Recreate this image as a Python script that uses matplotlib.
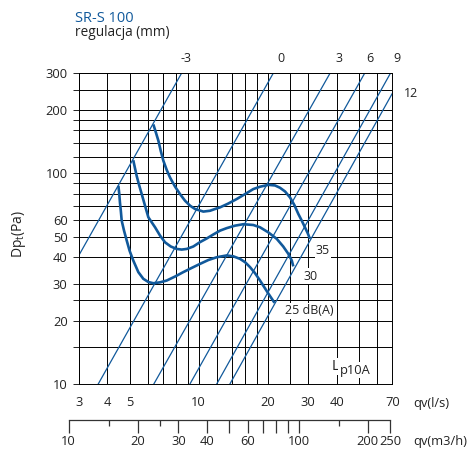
import matplotlib
matplotlib.use("Agg")
import matplotlib.pyplot as plt

plt.rcParams["font.family"] = "Open Sans"
plt.rcParams["mathtext.fontset"] = "custom"
plt.rcParams["mathtext.rm"] = "Open Sans"

# ---------------------------------------------------------
# data
# ---------------------------------------------------------
grid_q = [3, 4, 5, 6, 7, 8, 9, 10, 12, 14, 16, 18, 20, 25, 30, 40, 50, 60, 70]
q_labels = [3, 4, 5, 10, 20, 30, 40, 70]
grid_p = [10, 15, 20, 25, 30, 40, 50, 60, 70, 80, 90, 100, 120, 140, 160, 180, 200, 250, 300]
p_labels = [10, 20, 30, 40, 50, 60, 100, 200, 300]

m3h_long = [10, 20, 30, 40, 50, 60, 70, 80, 90, 100, 200, 250]
m3h_short = [15, 25, 150]
m3h_labels = [10, 20, 30, 40, 60, 100, 200, 250]

# regulation lines (mm): flow at 10 Pa and at 300 Pa
reg_names = ["-3", "0", "3", "6", "9", "12"]
reg_q10 = [1.45, 3.65, 6.38, 9.17, 12.0, 13.7]
reg_q300 = [8.44, 21.2, 37.5, 53.1, 68.8, 78.5]
reg_label_q = [8.84, 22.9, 40.8, 56.0, 73.0, 84.1]
reg_label_p = [352, 352, 352, 352, 352, 240]

# sound level curves Lp10A
q35 = [6.35, 6.52, 6.68, 6.84, 7.02, 7.26, 7.51, 7.90, 8.30, 8.73, 9.18, 9.65, 10.49,
       11.22, 11.8, 12.4, 13.49, 14.67, 15.95, 17.33, 18.54, 20.15, 21.56, 22.66,
       23.84, 25.06, 26.17, 27.24, 28.19, 29.1, 29.94, 30.6]
p35 = [171, 156, 143, 128, 115, 104, 95.6, 86.5, 79.8, 74.2, 70.3, 67.8, 65.9,
       66.5, 67.8, 69.0, 72.0, 75.6, 79.8, 84.3, 86.5, 88.3, 87.7, 85.5,
       82.1, 76.9, 70.8, 64.2, 59.7, 55.5, 52.0, 48.9]

q30 = [5.19, 5.28, 5.37, 5.50, 5.65, 5.84, 6.04, 6.46, 6.79, 7.14, 7.56, 8.03, 8.44,
       8.88, 9.49, 10.15, 10.85, 11.56, 12.4, 13.27, 14.42, 15.68, 17.33, 18.54,
       20.15, 21.93, 23.4, 24.64, 25.5, 25.9]
p30 = [115.6, 105.9, 97.4, 88.3, 79.8, 70.3, 61.9, 55.5, 50.7, 47.1, 45.0, 43.8, 43.5,
       43.8, 45.0, 47.2, 49.1, 51.2, 53.5, 55.0, 56.5, 57.4, 56.9, 55.5,
       52.5, 48.9, 45.0, 41.5, 38.6, 36.2]

q25 = [4.47, 4.51, 4.54, 4.58, 4.62, 4.73, 4.86, 5.0, 5.19, 5.46, 5.74, 6.04, 6.35,
       6.79, 7.26, 7.90, 8.58, 9.34, 10.15, 11.03, 12.0, 13.27, 14.18, 15.16, 15.95,
       16.77, 17.63, 18.54, 19.36, 20.15, 21.45]
p25 = [87.4, 79.8, 72.8, 66.5, 59.7, 53.5, 48.0, 43.0, 38.6, 34.0, 31.6, 30.5, 30.1,
       30.4, 31.0, 32.4, 34.0, 35.6, 37.2, 38.8, 40.0, 40.8, 40.4, 39.3, 37.9,
       35.9, 33.6, 31.0, 28.8, 26.9, 24.3]

curve_names = ["35", "30", "25 dB(A)"]
curve_label_q = [34.9, 30.8, 30.5]
curve_label_p = [43.0, 32.5, 22.3]

blue = "#11599b"
ink = "#222222"
W, H = 470, 454

fig = plt.figure(figsize=(W / 100, H / 100), dpi=100)
ax = fig.add_axes([78.7 / W, 1 - 384 / H, (392.3 - 78.7) / W, (384 - 73) / H])
ax.set_xscale("log")
ax.set_yscale("log")
ax.set_xlim(3, 70)
ax.set_ylim(10, 300)

ax.set_xticks(grid_q)
ax.set_xticklabels([str(v) if v in q_labels else "" for v in grid_q])
ax.set_yticks(grid_p)
ax.set_yticklabels([str(v) if v in p_labels else "" for v in grid_p])
ax.minorticks_off()
ax.tick_params(axis="x", length=0, pad=8.5, labelsize=9.3, colors=ink)
ax.tick_params(axis="y", length=4, width=0.7, pad=4, labelsize=9.3, colors=ink)
ax.grid(True, color="black", lw=0.7)
ax.set_axisbelow(True)
for s in ax.spines.values():
    s.set_linewidth(0.7)

# regulation lines
for q10, q300 in zip(reg_q10, reg_q300):
    ax.plot([q10, q300], [10, 300], color=blue, lw=0.9)
for name, lq, lp in zip(reg_names, reg_label_q, reg_label_p):
    ax.text(lq, lp, name, ha="center", va="center", fontsize=9, color=ink, clip_on=False)

# sound curves
for q, p in [(q35, p35), (q30, p30), (q25, p25)]:
    ax.plot(q, p, color=blue, lw=1.9, solid_joinstyle="round", solid_capstyle="butt")
for name, lq, lp in zip(curve_names, curve_label_q, curve_label_p):
    ax.text(lq, lp, name, ha="center", va="center", fontsize=9, color=ink,
            bbox=dict(facecolor="white", edgecolor="none", pad=1))
ax.text(37.9, 11.65, "L", ha="left", va="baseline", fontsize=10.5, color=ink,
        bbox=dict(facecolor="white", edgecolor="none", pad=1))
ax.text(41.3, 11.2, "p10A", ha="left", va="baseline", fontsize=9.3, color=ink,
        bbox=dict(facecolor="white", edgecolor="none", pad=1))

# second flow axis in m3/h
ax2 = fig.add_axes([68.7 / W, 1 - 419.5 / H, (390 - 68.7) / W, 0.0001])
ax2.set_xscale("log")
ax2.set_xlim(10, 250)
ax2.set_yticks([])
ax2.patch.set_visible(False)
for side in ["left", "right", "top"]:
    ax2.spines[side].set_visible(False)
ax2.spines["bottom"].set_color("#333333")
ax2.spines["bottom"].set_linewidth(0.9)
ax2.set_xticks(m3h_long)
ax2.set_xticklabels([str(v) if v in m3h_labels else "" for v in m3h_long])
ax2.set_xticks(m3h_short, minor=True)
ax2.xaxis.set_minor_formatter(plt.NullFormatter())
ax2.tick_params(axis="x", which="major", length=9, width=0.9, pad=2, labelsize=9.3,
                colors="#333333", labelcolor=ink)
ax2.tick_params(axis="x", which="minor", length=4.5, width=0.9, colors="#333333")

# texts
fig.text(75 / W, 1 - 18 / H, "SR-S 100", color=blue, fontsize=10.5, va="center")
fig.text(75 / W, 1 - 33 / H, "regulacja (mm)", color=ink, fontsize=9.8, va="center")
fig.text(19 / W, 1 - 234 / H, r"Dp$_{\mathregular{t}}$(Pa)", rotation=90, fontsize=10,
         ha="center", va="center", color=ink)
fig.text(413 / W, 1 - 403 / H, "qv(l/s)", fontsize=9.3, va="center", color=ink)
fig.text(413 / W, 1 - 442 / H, "qv(m3/h)", fontsize=9.3, va="center", color=ink)

fig.savefig("out.png", dpi=100)
